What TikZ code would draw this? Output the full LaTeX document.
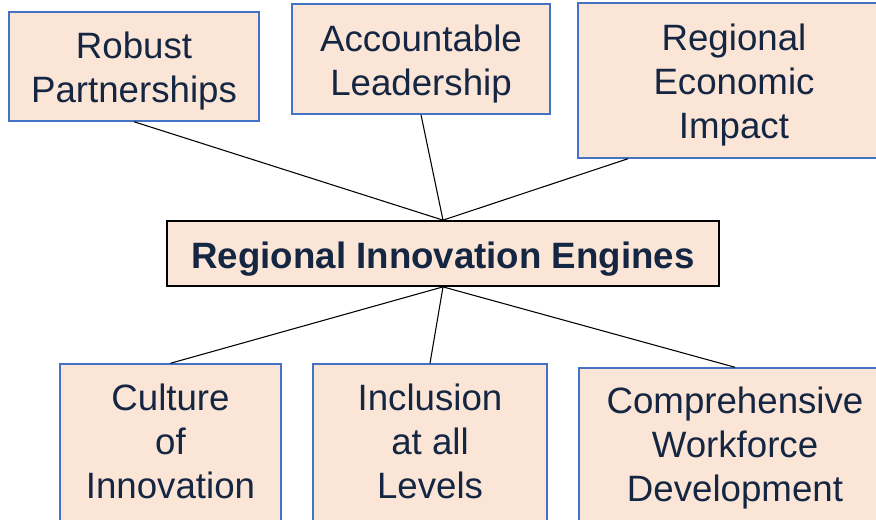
\documentclass[tikz,border=0pt]{standalone}
\usepackage{fontspec}
\setmainfont{Liberation Sans}
\definecolor{BoxFill}{RGB}{251,229,214}
\definecolor{BoxBlue}{RGB}{68,114,196}
\definecolor{TextNavy}{RGB}{20,38,66}
\usepackage{tikz}
\usetikzlibrary{positioning}
\tikzset{>=latex}
\newcommand{\headstrut}[1]{\rule{0pt}{#1}}
\newcommand{\footstrut}{\rule[-4.5pt]{0pt}{0pt}}

\begin{document}
\begin{tikzpicture}[x=0.75pt,y=-0.75pt,
        pillar/.style={draw=BoxBlue,line width=1.1pt,fill=BoxFill,text=TextNavy,align=center,inner sep=0pt,font=\fontsize{27.5}{33}\selectfont},
        engine/.style={draw=black,line width=1.3pt,fill=BoxFill,text=TextNavy,inner sep=0pt,font=\fontsize{27.5}{33}\selectfont\bfseries},
        link/.style={black,line width=0.8pt}]
        % page frame
        \clip (0,0) rectangle (876,519);
        \fill[white] (0,0) rectangle (876,519);
        % top row
        \node[pillar,minimum width=187.5pt,minimum height=81.75pt] at (134,66.5) (partner) {\headstrut{27pt}Robust\\Partnerships};
        \node[pillar,minimum width=193.5pt,minimum height=82.5pt] at (421,59) (leader) {\headstrut{27pt}Accountable\\Leadership};
        \node[pillar,minimum width=234pt,minimum height=116.25pt] at (734,80.5) (econ) {\headstrut{27pt}Regional\\Economic\\Impact};
        % hub
        \node[engine,minimum width=414pt,minimum height=48.75pt] at (443,253.5) (hub) {\headstrut{29pt}Regional Innovation Engines};
        % bottom row
        \node[pillar,minimum width=165.75pt,minimum height=120pt] at (170.5,444) (culture) {Culture\\of\\Innovation\footstrut};
        \node[pillar,minimum width=175.5pt,minimum height=120pt] at (430,444) (inclusion) {Inclusion\\at all\\Levels\footstrut};
        \node[pillar,minimum width=234pt,minimum height=120pt] at (735,448) (workforce) {Comprehensive\\Workforce\\Development};
        % connectors
        \draw[link] (partner.south) -- (hub.north);
        \draw[link] (leader.south) -- (hub.north);
        \draw[link] ([xshift=38pt]econ.south west) -- (hub.north);
        \draw[link] (hub.south) -- (culture.north);
        \draw[link] (hub.south) -- (inclusion.north);
        \draw[link] (hub.south) -- (workforce.north);
    \end{tikzpicture}
\end{document}
